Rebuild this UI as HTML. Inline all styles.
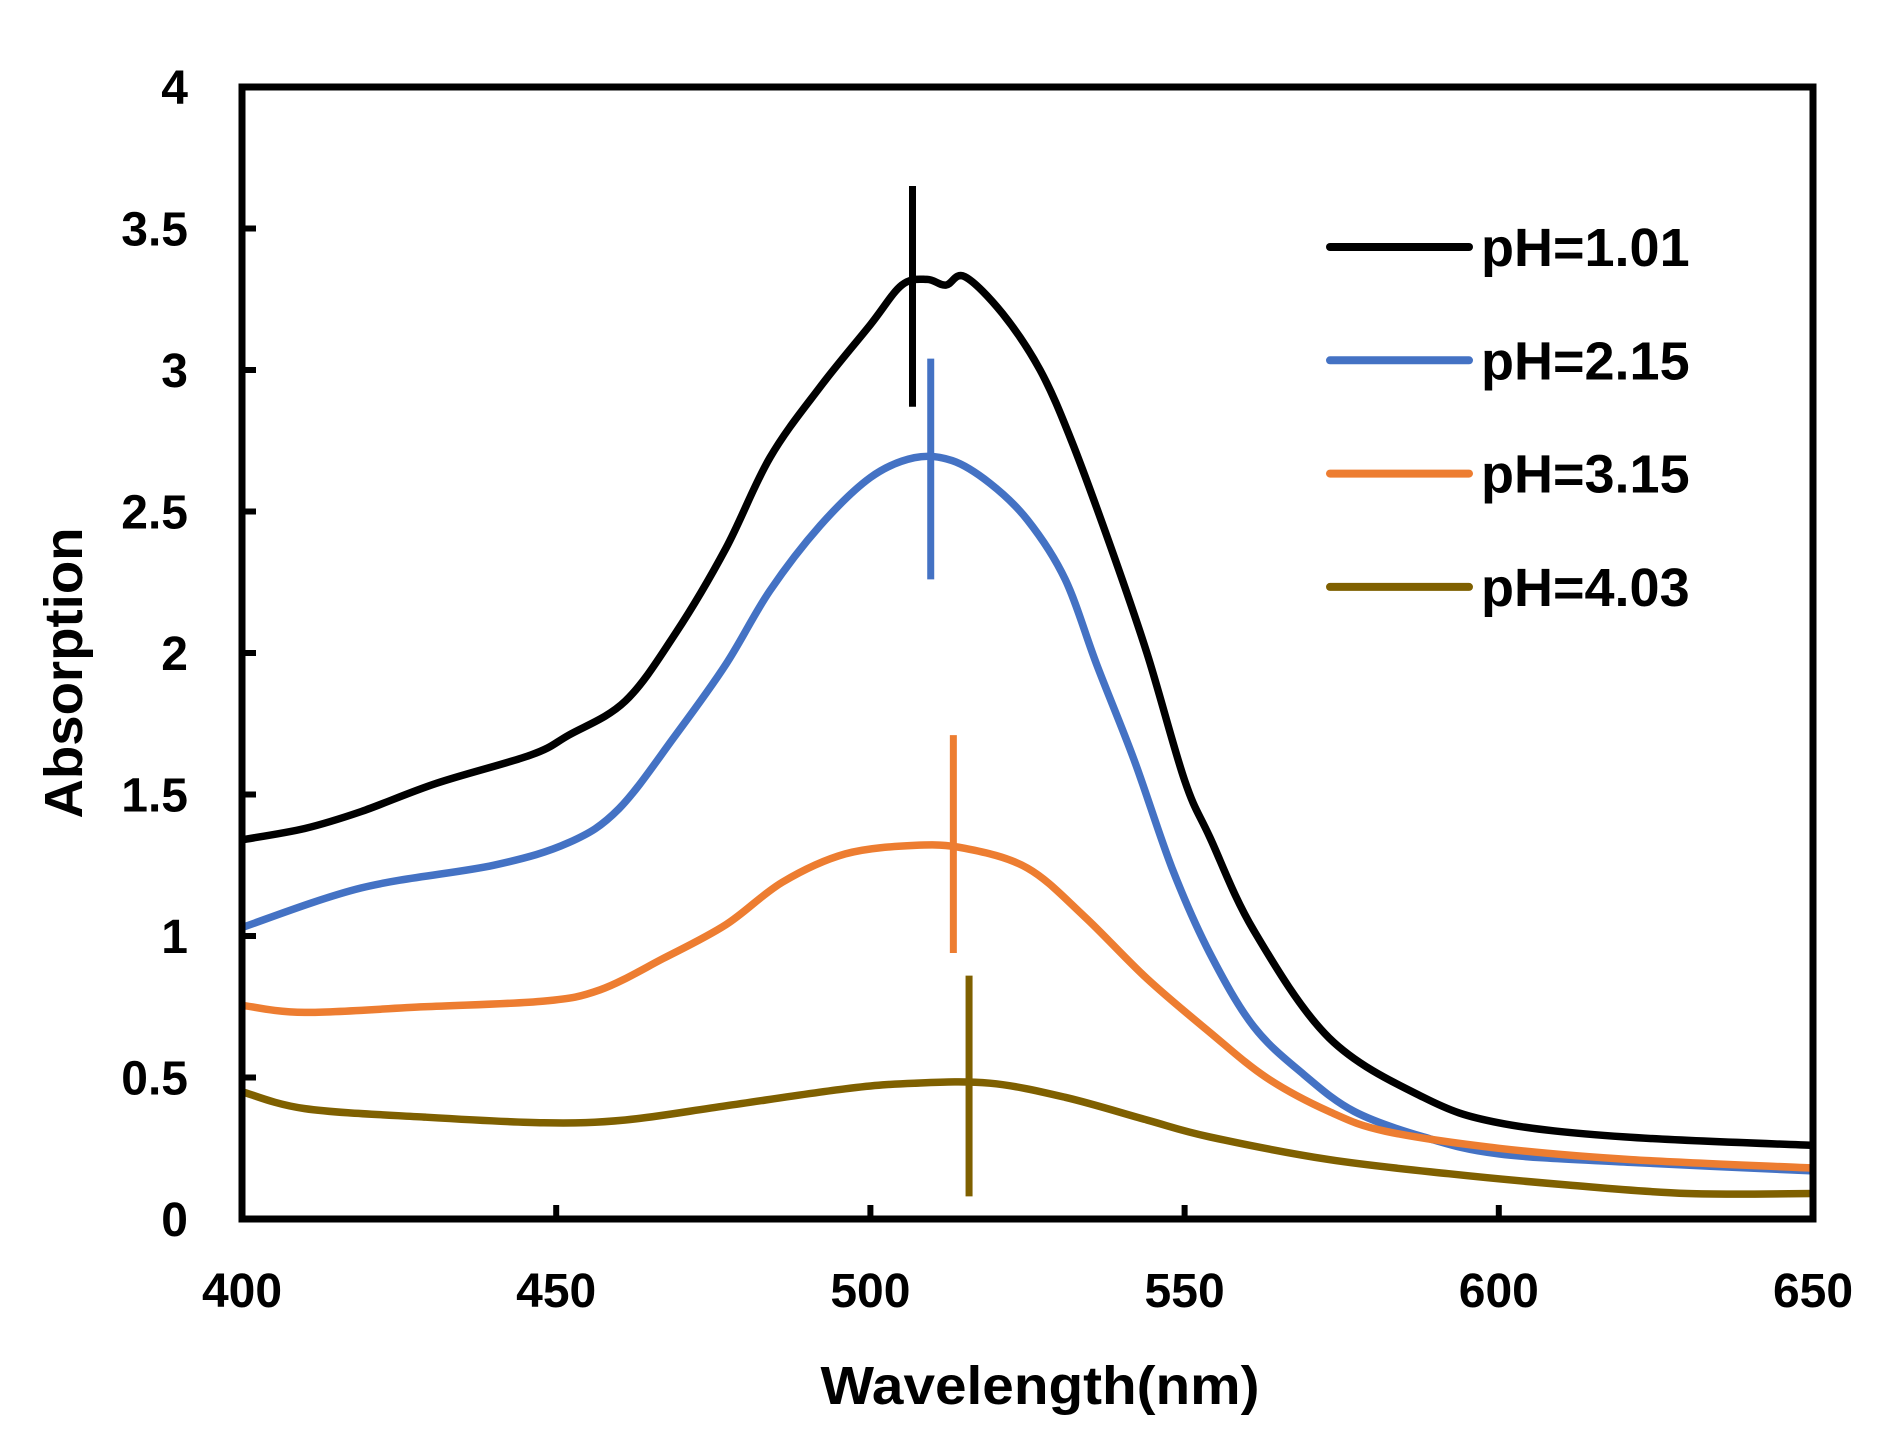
<!DOCTYPE html>
<html><head><meta charset="utf-8"><style>
html,body{margin:0;padding:0;background:#fff;}
svg text{font-family:"Liberation Sans",sans-serif;font-weight:bold;fill:#000;}
</style></head><body>
<svg id="chart" width="1891" height="1440" viewBox="0 0 1891 1440" xmlns="http://www.w3.org/2000/svg">
<g id="plot"></g>
</svg>
<script>
const xTicks = [400,450,500,550,600,650];
const yTicks = [0,0.5,1,1.5,2,2.5,3,3.5,4];
const yTickLabels = ["0","0.5","1","1.5","2","2.5","3","3.5","4"];
const seriesNames = ["pH=1.01","pH=2.15","pH=3.15","pH=4.03"];
const seriesColors = ["#000000","#4472C4","#ED7D31","#7F6000"];
const wl1 = [400,410,419,431,446,452,461,469,477,484,492,500,505,509,512,515,521,527,532,538,544,550,554,561,573,588,600,620,650];
const ab1 = [1.34,1.38,1.44,1.54,1.64,1.71,1.83,2.07,2.37,2.69,2.94,3.16,3.3,3.32,3.30,3.33,3.2,3.0,2.75,2.39,2.0,1.55,1.35,1.02,0.64,0.43,0.34,0.29,0.26];
const wl2 = [400,419,440,452,460,469,477,484,492,500,507,513,519,525,531,536,542,548,554,561,569,577,588,600,621,650];
const ab2 = [1.03,1.17,1.25,1.33,1.45,1.71,1.96,2.22,2.45,2.62,2.69,2.68,2.6,2.47,2.26,1.96,1.62,1.24,0.94,0.68,0.51,0.38,0.29,0.23,0.2,0.17];
const wl3 = [400,410,429,448,457,467,477,486,496,507,515,525,534,544,554,563,573,582,600,621,650];
const ab3 = [0.755,0.73,0.75,0.77,0.81,0.92,1.04,1.19,1.29,1.32,1.31,1.24,1.07,0.85,0.66,0.5,0.38,0.31,0.25,0.21,0.18];
const wl4 = [400,410,429,448,461,477,496,507,519,531,544,554,573,592,611,630,650];
const ab4 = [0.45,0.39,0.36,0.34,0.35,0.4,0.46,0.48,0.48,0.43,0.35,0.29,0.21,0.16,0.12,0.09,0.09];
const wlSeries = [wl1,wl2,wl3,wl4];
const abSeries = [ab1,ab2,ab3,ab4];
const markerWl = [506.7,509.6,513.2,515.7];
const markerTop = [3.65,3.04,1.71,0.86];
const markerBottom = [2.87,2.26,0.94,0.08];

const L=242,R=1813,T=87,B=1219;
const X=v=>L+(v-400)/250*(R-L);
const Y=v=>B-v/4*(B-T);
const NS="http://www.w3.org/2000/svg";
const g=document.getElementById('plot');
function mk(tag,attrs){const e=document.createElementNS(NS,tag);for(const k in attrs)e.setAttribute(k,attrs[k]);g.appendChild(e);return e;}
function smooth(pts){
  let d='M'+pts[0][0].toFixed(1)+','+pts[0][1].toFixed(1);
  for(let i=0;i<pts.length-1;i++){
    const p0=pts[Math.max(0,i-1)],p1=pts[i],p2=pts[i+1],p3=pts[Math.min(pts.length-1,i+2)];
    const c1=[p1[0]+(p2[0]-p0[0])/6,p1[1]+(p2[1]-p0[1])/6];
    const c2=[p2[0]-(p3[0]-p1[0])/6,p2[1]-(p3[1]-p1[1])/6];
    d+=' C'+c1[0].toFixed(1)+','+c1[1].toFixed(1)+' '+c2[0].toFixed(1)+','+c2[1].toFixed(1)+' '+p2[0].toFixed(1)+','+p2[1].toFixed(1);
  }
  return d;
}

xTicks.forEach(v=>{
  const t=mk('line',{x1:X(v),x2:X(v),y1:B,y2:B-14,stroke:'#000','stroke-width':6});
  
  
  const l=mk('text',{x:X(v),y:1307,'font-size':48,'text-anchor':'middle'});
  l.textContent=v;
  
  
});
yTicks.forEach((v,i)=>{
  const t=mk('line',{x1:L,x2:L+14,y1:Y(v),y2:Y(v),stroke:'#000','stroke-width':6});
  
  
  const l=mk('text',{x:188,y:Y(v)+17,'font-size':48,'text-anchor':'end'});
  l.textContent=yTickLabels[i];
  
  
});
seriesNames.forEach((n,i)=>{
  const pts=wlSeries[i].map((w,j)=>[X(w),Y(abSeries[i][j])]);
  const p=mk('path',{d:smooth(pts),fill:'none',stroke:seriesColors[i],'stroke-width':7.5,'stroke-linejoin':'round'});
  
  
  const m=mk('line',{x1:X(markerWl[i]),x2:X(markerWl[i]),y1:Y(markerTop[i]),y2:Y(markerBottom[i]),stroke:seriesColors[i],'stroke-width':7});
  
  
  const ly=247+i*113.3;
  const ll=mk('line',{x1:1330,x2:1469,y1:ly,y2:ly,stroke:seriesColors[i],'stroke-width':8,'stroke-linecap':'round'});
  
  
  const lt=mk('text',{x:1481,y:ly+19,'font-size':54});
  lt.textContent=n;
  
  
});
const frame=mk('rect',{x:L,y:T,width:R-L,height:B-T,fill:'none',stroke:'#000','stroke-width':7});


const xt=mk('text',{x:1040,y:1404,'font-size':54,'text-anchor':'middle',textLength:439,lengthAdjust:'spacingAndGlyphs'});
xt.textContent='Wavelength(nm)';


const yt=mk('text',{x:0,y:0,'font-size':54,'text-anchor':'middle',transform:'translate(82,673) rotate(-90)',textLength:291,lengthAdjust:'spacingAndGlyphs'});
yt.textContent='Absorption';


</script>
</body></html>
